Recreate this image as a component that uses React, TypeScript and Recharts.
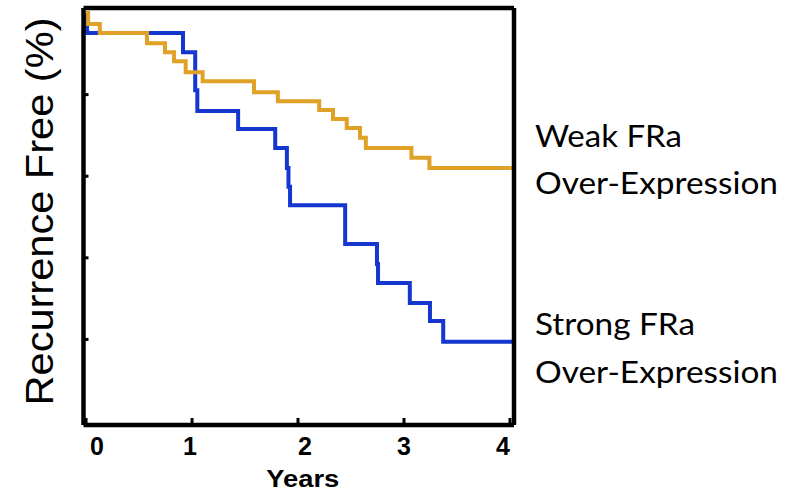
import React from 'react';
import { LineChart, Line, XAxis, YAxis, Label } from 'recharts';

// Kaplan–Meier step data (years, % recurrence free)
const weakTimes = [0, 0.02, 0.13, 0.575, 0.745, 0.83, 0.94, 1.1, 1.585, 1.81, 2.2, 2.33, 2.46, 2.585, 2.64, 3.07, 3.24, 4.03];
const weakValues = [100, 97.3, 95.1, 92.6, 90.4, 88.2, 85.5, 83.3, 80.6, 78.4, 76.2, 74.0, 71.8, 69.4, 66.9, 64.5, 62.0, 62.0];
const strongTimes = [0, 0.01, 0.915, 1.03, 1.05, 1.435, 1.785, 1.895, 1.91, 1.925, 2.445, 2.745, 2.755, 3.055, 3.245, 3.37, 4.03];
const strongValues = [100, 95.1, 90.4, 81.1, 76.0, 71.6, 66.9, 62.0, 57.4, 52.9, 43.4, 38.5, 33.8, 28.9, 24.5, 19.4, 19.4];

const xTicks = [0, 1, 2, 3, 4];
const xTickLabels = ['0', '1', '2', '3', '4'];
const yTicks = [20, 40, 60, 80];

const weakLabel = ['Weak FRa', 'Over-Expression'];
const strongLabel = ['Strong FRa', 'Over-Expression'];

const weakData = weakTimes.map((t, i) => ({ t, v: weakValues[i] }));
const strongData = strongTimes.map((t, i) => ({ t, v: strongValues[i] }));

const tickDx = [11, -2, 7, 0, -7];

const XTick = (props: any) => {
  const { x, y, index } = props;
  return (
    <text
      x={x + (tickDx[index] || 0)}
      y={y}
      textAnchor="middle"
      fontFamily="'Liberation Sans', Arial, sans-serif"
      fontWeight="bold"
      fontSize={25}
      fill="#000"
    >
      {xTickLabels[index]}
    </text>
  );
};

const EmptyTick = () => <g />;

const YearsLabel = (props: any) => {
  const vb = props.viewBox || { x: 83.5, y: 425, width: 430, height: 1 };
  return (
    <text
      x={vb.x + vb.width / 2 + 4}
      y={vb.y + 62}
      textAnchor="middle"
      fontFamily="'Liberation Sans', Arial, sans-serif"
      fontWeight="bold"
      fontSize={23}
      textLength={73}
      lengthAdjust="spacingAndGlyphs"
      fill="#000"
    >
      Years
    </text>
  );
};

const YTitle = (props: any) => {
  const vb = props.viewBox || { x: 82.5, y: 8, width: 1, height: 417 };
  const cx = vb.x + vb.width - 30.5;
  const cy = vb.y + vb.height / 2 - 5;
  return (
    <text
      transform={`translate(${cx},${cy}) rotate(-90)`}
      x={0}
      y={0}
      textAnchor="middle"
      fontFamily="'Liberation Sans', Arial, sans-serif"
      fontSize={39}
      textLength={388}
      lengthAdjust="spacingAndGlyphs"
      fill="#000"
    >
      Recurrence Free (%)
    </text>
  );
};

const SideLabels = (props: any) => {
  const vb = props.viewBox || { x: 514, y: 8, width: 1, height: 417 };
  const x0 = vb.x + 21;
  const font = { fontFamily: "Lato, 'Noto Sans', sans-serif", fontSize: 30, fill: '#000' };
  return (
    <g>
      <text x={x0} y={vb.y + 139} {...font} textLength={147} lengthAdjust="spacingAndGlyphs">{weakLabel[0]}</text>
      <text x={x0} y={vb.y + 186} {...font} textLength={243} lengthAdjust="spacingAndGlyphs">{weakLabel[1]}</text>
      <text x={x0} y={vb.y + 327} {...font} textLength={160} lengthAdjust="spacingAndGlyphs">{strongLabel[0]}</text>
      <text x={x0} y={vb.y + 375} {...font} textLength={243} lengthAdjust="spacingAndGlyphs">{strongLabel[1]}</text>
    </g>
  );
};

const border = { stroke: '#000', strokeWidth: 4.5 };

export default function App() {
  return (
    <div style={{ position: 'absolute', left: 0, top: 0, width: 794, height: 492, background: '#fff' }}>
      <LineChart
        width={794}
        height={492}
        margin={{ top: 7, right: 279, bottom: 66, left: 82.5 }}
      >
        <XAxis
          xAxisId="b"
          type="number"
          dataKey="t"
          orientation="bottom"
          domain={[-0.024, 4.038]}
          allowDataOverflow
          ticks={xTicks}
          height={1}
          axisLine={border}
          tickLine={{ stroke: '#000', strokeWidth: 3 }}
          tickSize={-7}
          tickMargin={37}
          tick={<XTick />}
          interval={0}
        >
          <Label content={<YearsLabel />} />
        </XAxis>
        <XAxis
          xAxisId="t"
          type="number"
          dataKey="t"
          orientation="top"
          domain={[-0.024, 4.038]}
          allowDataOverflow
          ticks={xTicks}
          height={1}
          axisLine={border}
          tickLine={false}
          tick={false}
        />
        <YAxis
          yAxisId="l"
          type="number"
          orientation="left"
          domain={[-0.98, 101.23]}
          allowDataOverflow
          ticks={yTicks}
          width={1}
          axisLine={border}
          tickLine={{ stroke: '#000', strokeWidth: 3 }}
          tickSize={-5}
          tick={<EmptyTick />}
          interval={0}
        >
          <Label content={<YTitle />} />
        </YAxis>
        <YAxis
          yAxisId="r"
          type="number"
          orientation="right"
          domain={[-0.98, 101.23]}
          allowDataOverflow
          ticks={yTicks}
          width={1}
          axisLine={border}
          tickLine={false}
          tick={false}
        >
          <Label content={<SideLabels />} />
        </YAxis>
        <Line
          xAxisId="b"
          yAxisId="l"
          data={strongData}
          dataKey="v"
          type="stepAfter"
          stroke="#1537CF"
          strokeWidth={4}
          dot={false}
          isAnimationActive={false}
        />
        <Line
          xAxisId="b"
          yAxisId="l"
          data={weakData}
          dataKey="v"
          type="stepAfter"
          stroke="#DFA126"
          strokeWidth={4}
          dot={false}
          isAnimationActive={false}
        />
      </LineChart>
    </div>
  );
}
